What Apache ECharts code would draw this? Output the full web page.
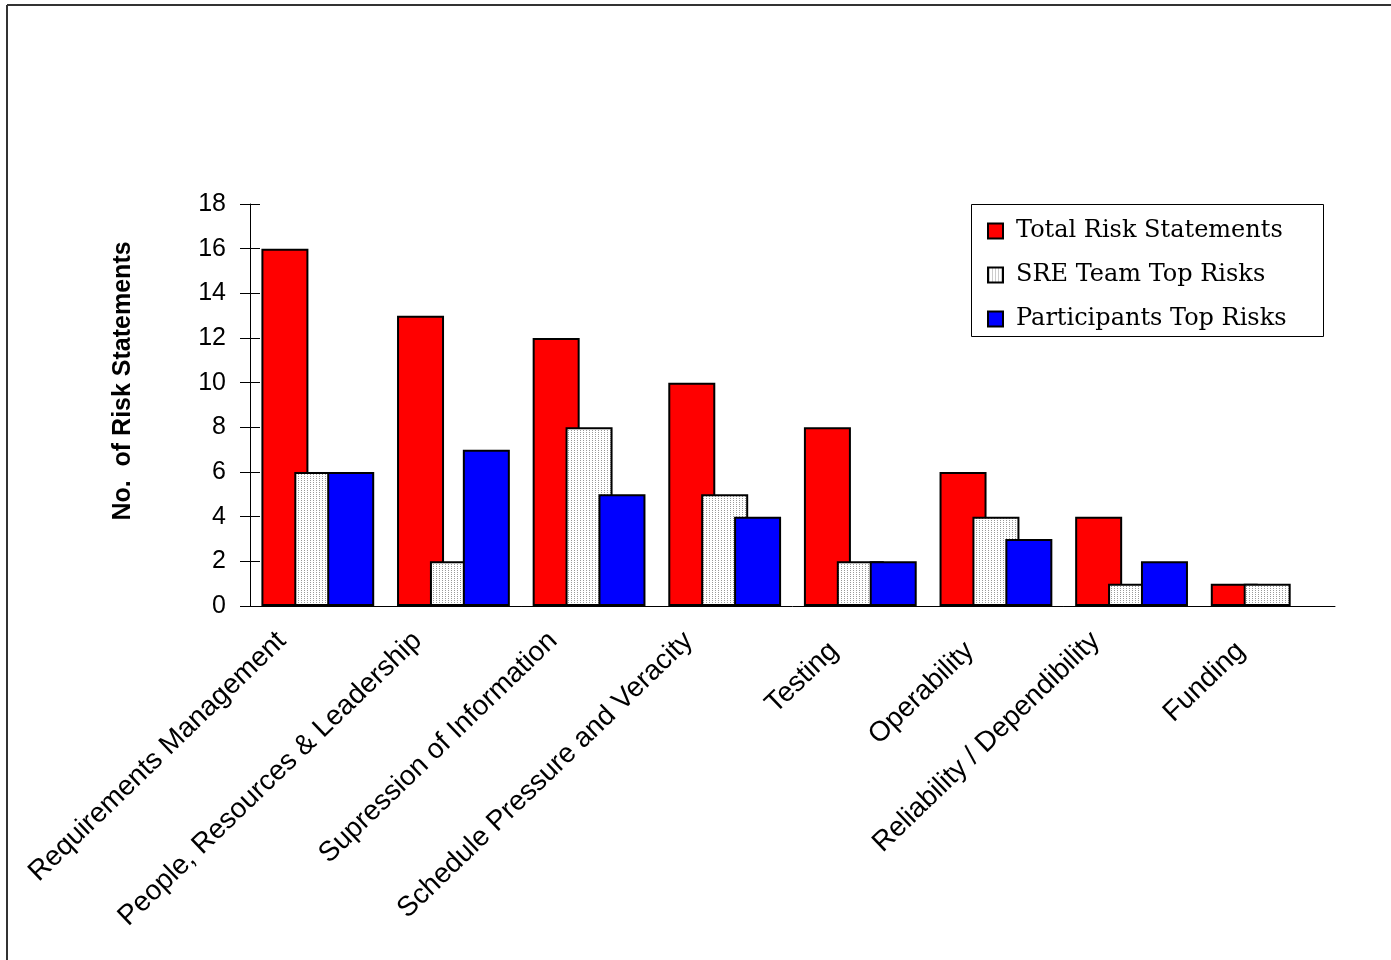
<!DOCTYPE html>
<html>
<head>
<meta charset="utf-8">
<script src="https://cdn.jsdelivr.net/npm/echarts@6/dist/echarts.min.js"></script>
<style>html,body{margin:0;padding:0;background:#fff;}#c{width:1391px;height:960px;}</style>
</head>
<body>
<div id="c"></div>
<script>
const categories = ['Requirements Management','People, Resources & Leadership','Supression of Information','Schedule Pressure and Veracity','Testing','Operability','Reliability / Dependibility','Funding'];
const totalRisk = [16,13,12,10,8,6,4,1];
const sreTop = [6,2,8,5,2,4,1,1];
const participantsTop = [6,7,5,4,2,3,2,null];
const yTicks = {min:0, max:18, interval:2};

// dotted pattern
const pc = document.createElement('canvas');
pc.width = 3; pc.height = 2;
const pctx = pc.getContext('2d');
pctx.fillStyle = '#ffffff'; pctx.fillRect(0,0,3,2);
pctx.fillStyle = '#9a9a9a'; pctx.fillRect(1,0,1,1);

const labelFont = {fontFamily:'Liberation Sans', fontSize:28, color:'#000'};
const chart = echarts.init(document.getElementById('c'), null, {renderer:'canvas'});
const border = {borderColor:'#000', borderWidth:2};
chart.setOption({
  animation:false,
  backgroundColor:'#fff',
  grid:{left:250, right:56, top:204, bottom:354, containLabel:false},
  legend:{
    orient:'vertical', left:982, top:214,
    itemWidth:15, itemHeight:15, itemGap:20,
    icon:'rect',
    textStyle:{fontFamily:'DejaVu Serif', fontSize:24, color:'#000', lineHeight:24, padding:[0,0,0,8]},
    data:['Total Risk Statements','SRE Team Top Risks','Participants Top Risks']
  },
  xAxis:[{
    type:'category', data:categories,
    axisLine:{lineStyle:{color:'#000', width:1}},
    axisTick:{length:8, lineStyle:{color:'#000'}},
    axisLabel:Object.assign({
      interval:0, rotate:44, margin:-4, padding:[0,50,0,0],
      formatter:function(v){ return v.length < 12 ? '{s|' + v + '}' : '{n|' + v + '}'; },
      rich:{
        n:Object.assign({}, labelFont),
        s:Object.assign({padding:[28,0,0,0]}, labelFont)
      }
    }, labelFont)
  },{
    type:'category', data:categories, position:'bottom',
    axisLine:{show:false},
    axisTick:{inside:true, length:8, lineStyle:{color:'#000'}},
    axisLabel:{show:false}
  }],
  yAxis:[{
    type:'value', min:yTicks.min, max:yTicks.max, interval:yTicks.interval,
    name:'No.  of Risk Statements', nameLocation:'middle', nameGap:114, nameRotate:90,
    nameTextStyle:{fontFamily:'Liberation Sans', fontWeight:'bold', fontSize:25, color:'#000', padding:[0,0,0,48]},
    axisLine:{show:true, lineStyle:{color:'#000', width:1}},
    axisTick:{show:true, length:10, lineStyle:{color:'#000'}},
    axisLabel:{margin:24, fontFamily:'Liberation Sans', fontSize:25, color:'#000'},
    splitLine:{show:false}
  },{
    type:'value', min:yTicks.min, max:yTicks.max, interval:yTicks.interval, position:'left',
    axisLine:{show:false},
    axisTick:{show:true, inside:true, length:10, lineStyle:{color:'#000'}},
    axisLabel:{show:false}, splitLine:{show:false}
  }],
  series:[
    {name:'Total Risk Statements', type:'bar', data:totalRisk, barWidth:47, barGap:'-30%', itemStyle:Object.assign({color:'#ff0000'}, border)},
    {name:'SRE Team Top Risks', type:'bar', data:sreTop, barWidth:47, barGap:'-30%', itemStyle:Object.assign({color:{image:pc, repeat:'repeat'}}, border)},
    {name:'Participants Top Risks', type:'bar', data:participantsTop, barWidth:47, barGap:'-30%', itemStyle:Object.assign({color:'#0000ff'}, border)}
  ],
  graphic:[
    {type:'rect', shape:{x:971.5, y:204.5, width:352, height:132}, style:{fill:null, stroke:'#000', lineWidth:1}, z:-1},
    {type:'line', shape:{x1:7, y1:5, x2:1391, y2:5}, style:{stroke:'#333', lineWidth:2}},
    {type:'line', shape:{x1:7, y1:5, x2:7, y2:960}, style:{stroke:'#333', lineWidth:2}}
  ]
});
</script>
</body>
</html>
